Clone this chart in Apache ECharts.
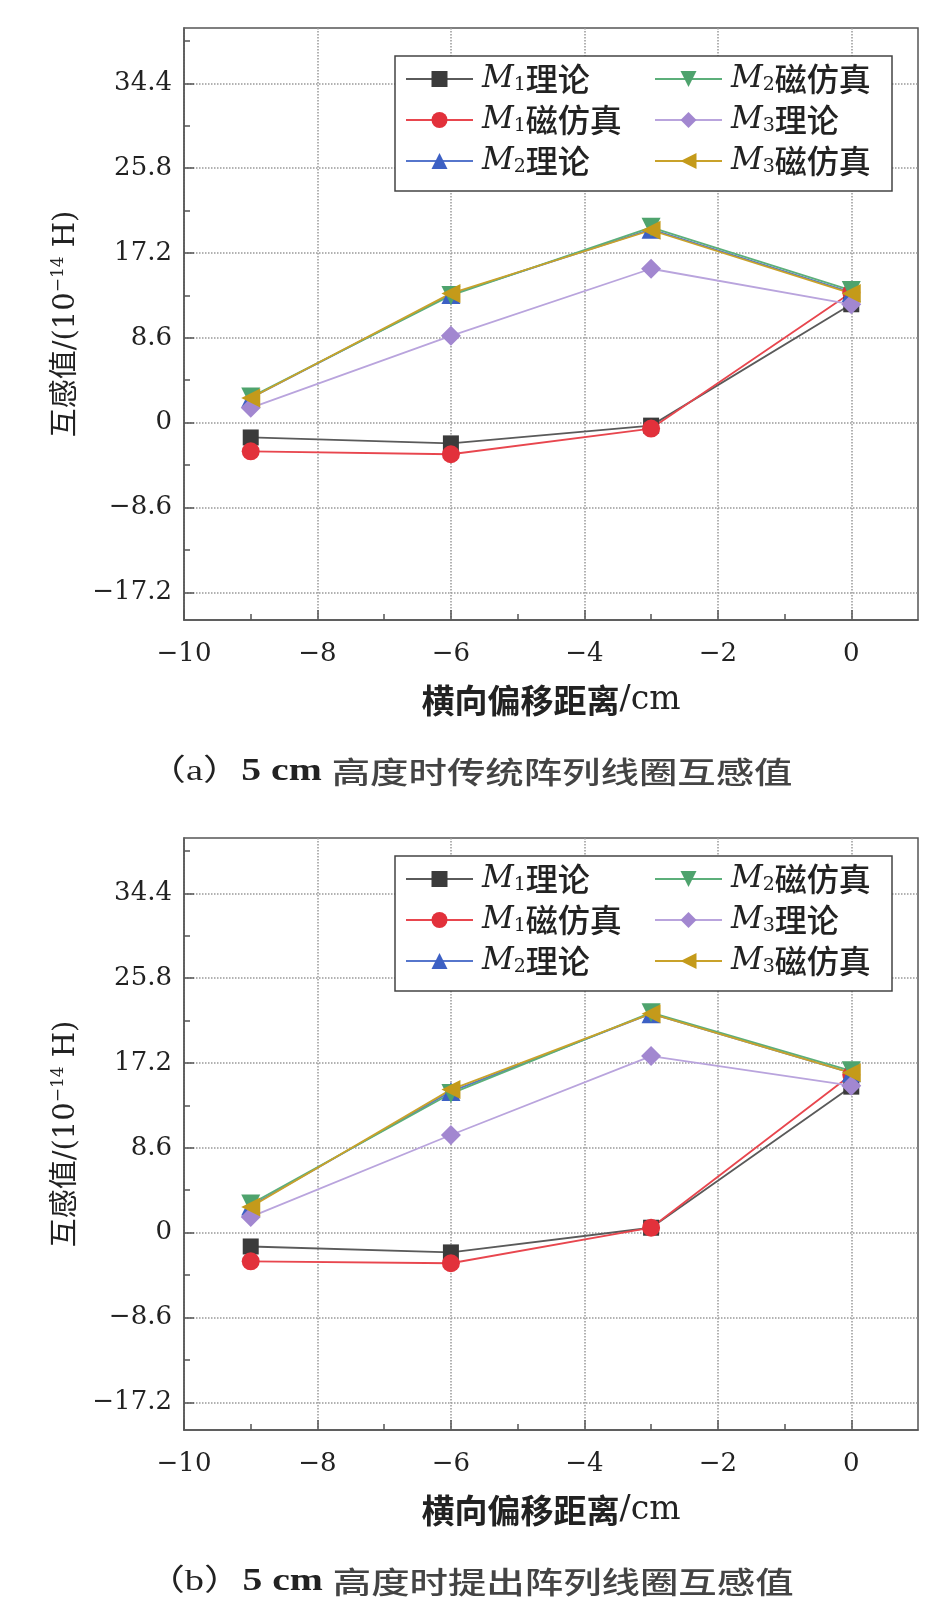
<!DOCTYPE html>
<html>
<head>
<meta charset="utf-8">
<script src="https://cdn.jsdelivr.net/npm/echarts@6/dist/echarts.min.js"></script>
<style>
  html, body { margin: 0; padding: 0; background: #fff; }
  #chart { width: 939px; height: 1619px; }
</style>
</head>
<body>
<div id="chart"></div>
<script>
// lateral offset of the receiving coil (cm)
const offsets = [-9, -6, -3, 0];
const seriesNames = ['M1理论', 'M1磁仿真', 'M2理论', 'M2磁仿真', 'M3理论', 'M3磁仿真'];

// (a) conventional array, mutual inductance (1e-14 H)
const convM1Theory = [-1.5, -2.1, -0.3, 12.0];
const convM1Sim    = [-2.9, -3.2, -0.6, 13.2];
const convM2Theory = [2.5, 13.0, 19.6, 13.2];
const convM2Sim    = [2.6, 12.9, 19.8, 13.4];
const convM3Theory = [1.5, 8.8, 15.6, 12.0];
const convM3Sim    = [2.5, 13.1, 19.5, 13.1];

// (b) proposed array
const propM1Theory = [-1.4, -2.0, 0.5, 14.8];
const propM1Sim    = [-2.9, -3.1, 0.5, 16.0];
const propM2Theory = [2.7, 14.3, 22.2, 16.2];
const propM2Sim    = [2.9, 14.1, 22.3, 16.4];
const propM3Theory = [1.6, 9.9, 17.9, 14.9];
const propM3Sim    = [2.6, 14.5, 22.2, 16.2];

const yTicks = [-17.2, -8.6, 0, 8.6, 17.2, 25.8, 34.4];
const yMinorTicks = [-12.9, -4.3, 4.3, 12.9, 21.5, 30.1, 38.7];
const xTicks = [-10, -8, -6, -4, -2, 0];
const xMinorTicks = [-9, -7, -5, -3, -1];

const captionTags = ['（a）', '（b）'];
const captionTexts = ['高度时传统阵列线圈互感值', '高度时提出阵列线圈互感值'];

// marker / colour per series
const looks = [
  { color: '#3b3b3b', line: '#5a5a5a', symbol: 'rect', size: 16, rotate: 0 },
  { color: '#e2313b', line: '#e8464e', symbol: 'circle', size: 18, rotate: 0 },
  { color: '#3c60c4', line: '#5676cc', symbol: 'triangle', size: 19, rotate: 0 },
  { color: '#4ea36d', line: '#5caf7a', symbol: 'triangle', size: 19, rotate: 180 },
  { color: '#a287d0', line: '#b9a4dd', symbol: 'diamond', size: 20, rotate: 0 },
  { color: '#c49a1a', line: '#c9a22a', symbol: 'triangle', size: 19, rotate: 90 }
];

const panels = [
  { top: 28, legendTop: 63, box: [395, 56, 497, 135], values: [convM1Theory, convM1Sim, convM2Theory, convM2Sim, convM3Theory, convM3Sim] },
  { top: 838, legendTop: 863, box: [395, 856, 497, 135], values: [propM1Theory, propM1Sim, propM2Theory, propM2Sim, propM3Theory, propM3Sim] }
];

const serif = "'DejaVu Serif', 'Noto Sans CJK SC'";
const minus = v => (v < 0 ? '\u2212' + Math.abs(v) : String(v));

// subscript pushed down with top padding
const legendRich = {
  i: { fontFamily: 'DejaVu Serif', fontStyle: 'italic', fontSize: 31, lineHeight: 33, color: '#222', padding: [0, 0, 0, 4] },
  s: { fontFamily: 'DejaVu Serif', fontSize: 19, lineHeight: 16, padding: [12, 0, 0, 0], color: '#222' },
  t: { fontFamily: 'Noto Sans CJK SC', fontWeight: 500, fontSize: 32, lineHeight: 33, color: '#222' }
};
const legendFormatter = name => '{i|M}{s|' + name[1] + '}{t|' + name.slice(2) + '}';

const grids = [], xAxes = [], yAxes = [], series = [], legends = [], graphics = [];

panels.forEach((p, k) => {
  grids.push({
    left: 184, width: 734, top: p.top, height: 592,
    show: true, borderColor: '#555', borderWidth: 1.5,
    containLabel: false, outerBoundsMode: 'none'
  });

  xAxes.push({
    type: 'value', gridIndex: k, min: -10, max: 1, position: 'bottom',
    axisLine: { onZero: false, lineStyle: { color: '#555', width: 1.5 } },
    axisTick: { inside: true, length: 10, customValues: xTicks, lineStyle: { color: '#555', width: 1.5 } },
    axisLabel: { customValues: xTicks, formatter: minus, margin: 21, color: '#222', fontFamily: 'DejaVu Serif', fontSize: 26 },
    splitLine: { show: true, lineStyle: { color: '#999', type: 'dotted', width: 1.5 } },
    name: '{c|横向偏移距离}{u|/cm}', nameLocation: 'middle', nameGap: 64,
    nameTextStyle: { rich: {
      c: { fontFamily: 'Noto Sans CJK SC', fontWeight: 'bold', fontSize: 33, color: '#222' },
      u: { fontFamily: 'DejaVu Serif', fontSize: 33, color: '#222' }
    } }
  });
  xAxes.push({
    type: 'value', gridIndex: k, min: -10, max: 1, position: 'bottom',
    axisLine: { show: false, onZero: false },
    axisTick: { inside: true, length: 6, customValues: xMinorTicks, lineStyle: { color: '#555', width: 1.5 } },
    axisLabel: { show: false },
    splitLine: { show: false }
  });

  yAxes.push({
    type: 'value', gridIndex: k, min: -20, max: 40, position: 'left',
    axisLine: { show: true, onZero: false, lineStyle: { color: '#555', width: 1.5 } },
    axisTick: { show: true, inside: true, length: 10, customValues: yTicks, lineStyle: { color: '#555', width: 1.5 } },
    axisLabel: { customValues: yTicks, formatter: minus, margin: 12, color: '#222', fontFamily: 'DejaVu Serif', fontSize: 26 },
    splitLine: { show: true, lineStyle: { color: '#999', type: 'dotted', width: 1.5 } },
    name: '{a|互感值/(10}{b|\u221214}{a| H)}', nameLocation: 'middle', nameRotate: 90, nameGap: 100,
    nameTextStyle: { rich: {
      a: { fontFamily: serif, fontSize: 29, lineHeight: 34, color: '#222' },
      b: { fontFamily: 'DejaVu Serif', fontSize: 17, lineHeight: 16, verticalAlign: 'top', color: '#222' }
    } }
  });
  yAxes.push({
    type: 'value', gridIndex: k, min: -20, max: 40, position: 'left',
    axisLine: { show: false, onZero: false },
    axisTick: { show: true, inside: true, length: 6, customValues: yMinorTicks, lineStyle: { color: '#555', width: 1.5 } },
    axisLabel: { show: false },
    splitLine: { show: false }
  });

  seriesNames.forEach((name, i) => {
    const lk = looks[i];
    series.push({
      name: name, type: 'line', xAxisIndex: 2 * k, yAxisIndex: 2 * k,
      data: offsets.map((x, j) => [x, p.values[i][j]]),
      symbol: lk.symbol, symbolSize: lk.size, symbolRotate: lk.rotate,
      itemStyle: { color: lk.color },
      lineStyle: { color: lk.line, width: 1.8 },
      emphasis: { disabled: true },
      animation: false
    });
  });

  [[0, 405], [3, 654]].forEach(([start, left]) => {
    legends.push({
      left: left, top: p.legendTop, orient: 'vertical', z: 10,
      data: seriesNames.slice(start, start + 3),
      itemWidth: 67, itemHeight: 20, itemGap: 9, padding: 0,
      formatter: legendFormatter,
      textStyle: { rich: legendRich },
      selectedMode: false
    });
  });

  graphics.push({
    type: 'rect', z: 8,
    shape: { x: p.box[0], y: p.box[1], width: p.box[2], height: p.box[3] },
    style: { fill: '#fff', stroke: '#444', lineWidth: 1.5 }
  });

  graphics.push({
    type: 'text', x: 470, y: p.top + 592 + 152, scaleX: 1.28, z: 10,
    style: {
      text: '{p|' + captionTags[k] + '}{n|5 cm }{c|' + captionTexts[k] + '}',
      x: 0, y: 0, align: 'center', verticalAlign: 'middle', textAlign: 'center', textVerticalAlign: 'middle',
      rich: {
        p: { fontFamily: "'Liberation Serif', 'Noto Sans CJK SC'", fontSize: 30, fill: '#222' },
        n: { fontFamily: 'Liberation Serif', fontWeight: 'bold', fontSize: 31, fill: '#222' },
        c: { fontFamily: 'Noto Sans CJK SC', fontWeight: 500, fontSize: 30, fill: '#444' }
      }
    }
  });
});

const chart = echarts.init(document.getElementById('chart'), null, { renderer: 'canvas' });
chart.setOption({
  backgroundColor: '#fff',
  animation: false,
  grid: grids,
  xAxis: xAxes,
  yAxis: yAxes,
  legend: legends,
  graphic: { elements: graphics },
  series: series
});
</script>
</body>
</html>
